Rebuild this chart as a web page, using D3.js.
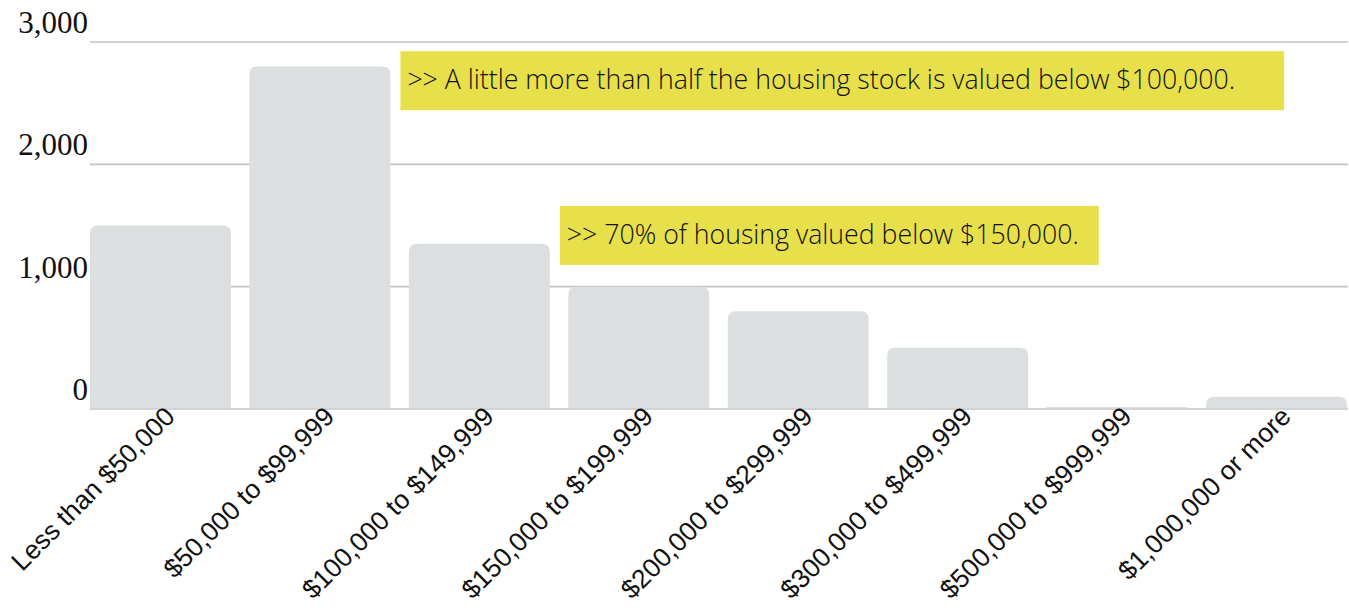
<!DOCTYPE html>
<html>
<head>
<meta charset="utf-8">
<script src="https://cdn.jsdelivr.net/npm/d3@7"></script>
<style>
  html, body { margin: 0; padding: 0; background: #fff; }
  #chart { width: 1349px; height: 614px; }
</style>
</head>
<body>
<div id="chart"></div>
<script>
// Housing value distribution: count of units by value band.
var categories = [
    'Less than $50,000', '$50,000 to $99,999', '$100,000 to $149,999',
    '$150,000 to $199,999', '$200,000 to $299,999', '$300,000 to $499,999',
    '$500,000 to $999,999', '$1,000,000 or more'
];
var values = [1500, 2800, 1350, 1000, 800, 500, 10, 100];
var yTicks = [0, 1000, 2000, 3000];
var noteTexts = [
    '>> A little more than half the housing stock is valued below $100,000.',
    '>> 70% of housing valued below $150,000.'
];
// which bar each note sits beside, and the value its top edge lines up with
var noteBars = [1, 2];
var noteTops = [2925, 1660];

(function () {
    var W = 1349, H = 614;
    var margin = { top: 42, right: 1, bottom: 205, left: 90 };
    var innerW = W - margin.left - margin.right;
    var innerH = H - margin.top - margin.bottom;
    var notePadRight = [49, 20];

    var svg = d3.select('#chart').append('svg')
        .attr('width', W).attr('height', H);
    var g = svg.append('g')
        .attr('transform', 'translate(' + margin.left + ',' + margin.top + ')');

    var x = d3.scaleBand().domain(categories).range([0, innerW - 1])
        .paddingInner(0.116).paddingOuter(0);
    var y = d3.scaleLinear().domain([0, 3000]).range([innerH, 0]);

    // grid lines
    g.selectAll('line.grid').data(yTicks).enter().append('line')
        .attr('class', 'grid')
        .attr('x1', 0).attr('x2', innerW)
        .attr('y1', function (d) { return y(d); })
        .attr('y2', function (d) { return y(d); })
        .attr('stroke', '#c4c4c4').attr('stroke-width', 1.6);

    // y labels sit just above their grid line
    g.selectAll('text.ylab').data(yTicks).enter().append('text')
        .attr('class', 'ylab')
        .attr('x', -2).attr('y', function (d) { return y(d) - 9; })
        .attr('text-anchor', 'end')
        .attr('font-family', '"Liberation Serif", serif')
        .attr('font-size', 31)
        .attr('fill', '#111')
        .text(d3.format(','));

    // bars with rounded tops
    function barPath(d, i) {
        var x0 = x(categories[i]), w = x.bandwidth();
        var y0 = y(0) - 1, y1 = y(d);
        var r = Math.min(8, (y0 - y1), w / 2);
        if (y0 - y1 < 0.5) y1 = y0 - 1;
        return 'M' + x0 + ',' + y0 +
            'V' + (y1 + r) +
            'Q' + x0 + ',' + y1 + ' ' + (x0 + r) + ',' + y1 +
            'H' + (x0 + w - r) +
            'Q' + (x0 + w) + ',' + y1 + ' ' + (x0 + w) + ',' + (y1 + r) +
            'V' + y0 + 'Z';
    }
    g.selectAll('path.bar').data(values).enter().append('path')
        .attr('class', 'bar')
        .attr('d', barPath)
        .attr('fill', '#dcdfe0');

    // category labels, rotated
    g.selectAll('text.xlab').data(categories).enter().append('text')
        .attr('class', 'xlab')
        .attr('transform', function (d) {
            return 'translate(' + (x(d) + x.bandwidth() / 2 + 16) + ',' + (innerH + 9) + ') rotate(-45)';
        })
        .attr('text-anchor', 'end')
        .attr('font-family', '"Liberation Sans", Arial, sans-serif')
        .attr('font-size', 26.5)
        .attr('fill', '#111')
        .text(function (d) { return d; });

    // annotation boxes
    noteTexts.forEach(function (txt, i) {
        var sel = g.append('g').attr('class', 'note');
        var bx = x(categories[noteBars[i]]) + x.bandwidth() + 10;
        var by = y(noteTops[i]);
        var rect = sel.append('rect').attr('fill', '#e8e04a');
        var t = sel.append('text')
            .attr('x', bx + 7).attr('y', by + 38)
            .attr('font-family', '"Open Sans", sans-serif')
            .attr('font-weight', 300)
            .attr('font-size', 26.7)
            .attr('fill', '#111')
            .text(txt);
        var tw = t.node().getComputedTextLength();
        rect.attr('x', bx).attr('y', by)
            .attr('width', tw + 7 + notePadRight[i]).attr('height', 59);
    });
})();
</script>
</body>
</html>
